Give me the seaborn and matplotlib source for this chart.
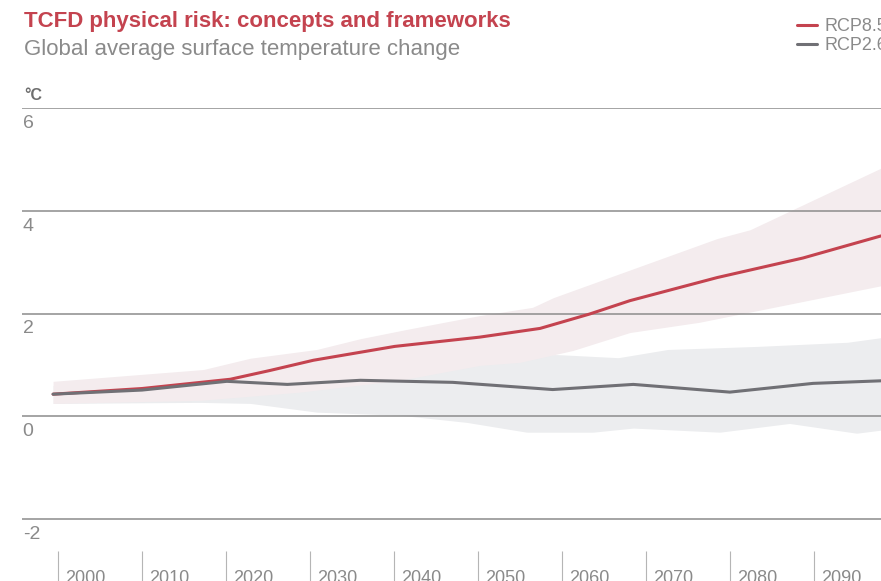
import numpy as np
import pandas as pd
import seaborn as sns
import matplotlib.pyplot as plt

# Datos (anio, grados C)
anios_85 = [1999.4, 2010, 2020.5, 2025.2, 2030.4, 2040.1, 2050.2, 2057.4, 2063.3, 2068.1, 2078.5, 2088.7, 2098]
rcp85 = [0.43, 0.54, 0.72, 0.89, 1.09, 1.36, 1.54, 1.71, 1.99, 2.25, 2.70, 3.08, 3.51]

anios_26 = [1999.4, 2010, 2020.1, 2027.3, 2036, 2047, 2058.9, 2068.5, 2080, 2089.9, 2098]
rcp26 = [0.43, 0.51, 0.68, 0.62, 0.70, 0.66, 0.52, 0.62, 0.47, 0.64, 0.69]

# Bandas de incertidumbre
sup85_anios = [1999.4, 2017.3, 2022.9, 2030.8, 2036, 2041.5, 2050.2, 2056.5, 2059, 2078.5, 2082.4, 2098]
sup85 = [0.68, 0.91, 1.13, 1.30, 1.51, 1.69, 1.96, 2.12, 2.31, 3.46, 3.63, 4.83]
inf85_anios = [1999.4, 2016.9, 2028.8, 2040.7, 2050.2, 2055, 2061.3, 2068.1, 2076.4, 2098]
inf85 = [0.25, 0.31, 0.47, 0.70, 0.99, 1.05, 1.28, 1.63, 1.83, 2.54]

sup26_anios = [1999.4, 2020, 2030, 2040, 2050.2, 2053.9, 2059.5, 2066.7, 2072.6, 2083.3, 2094, 2098]
sup26 = [0.60, 0.75, 0.90, 0.95, 1.03, 1.20, 1.20, 1.14, 1.30, 1.36, 1.44, 1.53]
inf26_anios = [1999.4, 2016.9, 2022.9, 2030.8, 2040.7, 2048.7, 2055.8, 2063.7, 2068.5, 2078.8, 2087.1, 2095.1, 2098]
inf26 = [0.25, 0.27, 0.25, 0.08, 0.02, -0.12, -0.31, -0.31, -0.23, -0.31, -0.14, -0.33, -0.27]

decadas = [2000, 2010, 2020, 2030, 2040, 2050, 2060, 2070, 2080, 2090]
yticks = [-2, 0, 2, 4, 6]

ROJO = "#c4434f"
GRIS = "#707075"

df = pd.concat([
    pd.DataFrame({"anio": anios_85, "temp": rcp85, "escenario": "RCP8.5"}),
    pd.DataFrame({"anio": anios_26, "temp": rcp26, "escenario": "RCP2.6"}),
])

sns.set_theme(style="white")
plt.rcParams['font.family'] = ['Liberation Sans', 'DejaVu Sans']

fig = plt.figure(figsize=(8.81, 5.81), dpi=100)
ax = fig.add_axes([22 / 881, 1 - 551 / 581, 1 - 22 / 881, (551 - 108) / 581])

# bandas: gris debajo, rosa encima
xs = np.linspace(1999.4, 2098, 600)
ax.fill_between(xs, np.interp(xs, inf26_anios, inf26), np.interp(xs, sup26_anios, sup26),
                color="#ecedef", lw=0, zorder=1)
ax.fill_between(xs, np.interp(xs, inf85_anios, inf85), np.interp(xs, sup85_anios, sup85),
                color="#f4ecee", lw=0, zorder=1.2)

sns.lineplot(data=df, x="anio", y="temp", hue="escenario", palette={"RCP8.5": ROJO, "RCP2.6": GRIS},
             hue_order=["RCP8.5", "RCP2.6"], linewidth=2.2, ax=ax, zorder=3, legend=True)

ax.set_xlim(1995.7, 2098)
ax.set_ylim(-2 - 32 / 51.4, 6)
ax.set_yticks(yticks)
ax.set_xticks(decadas)
ax.set_axisbelow(False)
ax.grid(axis="y", color="#8c8c8c", lw=1.1, zorder=2.5)
ax.grid(axis="x", visible=False)
ax.tick_params(axis="y", left=False, labelleft=False)
ax.tick_params(axis="x", bottom=True, direction="out", length=23, width=0.8,
               color="#b5b5b5", labelbottom=False)
for s in ax.spines.values():
    s.set_visible(False)
ax.set_xlabel("")
ax.set_ylabel("")

for v in yticks:
    ax.annotate(str(v), xy=(0, v), xycoords=("axes fraction", "data"),
                xytext=(0.5, -5), textcoords="offset points", ha="left", va="top",
                fontsize=14, color="#8a8a8a")

for d in decadas:
    ax.annotate(str(d), xy=(d, 0), xycoords=("data", "axes fraction"),
                xytext=(5, -13.5), textcoords="offset points", ha="left", va="top",
                fontsize=13, color="#8a8a8a", annotation_clip=False)

# titulos
fig.text(24 / 881, 1 - 22 / 581, "TCFD physical risk: concepts and frameworks",
         fontsize=16, fontweight="bold", color="#c4434f", va="center", ha="left")
fig.text(24 / 881, 1 - 49 / 581, "Global average surface temperature change",
         fontsize=16, color="#8a8a8a", va="center", ha="left")
fig.text(24 / 881, 1 - 95 / 581, "°C", fontsize=11.5, fontweight="bold",
         color="#6e6e6e", va="center", ha="left")

# leyenda arriba a la derecha
handles, labels = ax.get_legend_handles_labels()
ax.get_legend().remove()
fig.legend(handles, labels, loc="upper left", bbox_to_anchor=(781 / 881, 1 - 2 / 581),
           frameon=False, fontsize=13, handlelength=1.1, handletextpad=0.4,
           labelspacing=0.1, labelcolor="#8a8a8a")

fig.savefig("out.png", dpi=100)
